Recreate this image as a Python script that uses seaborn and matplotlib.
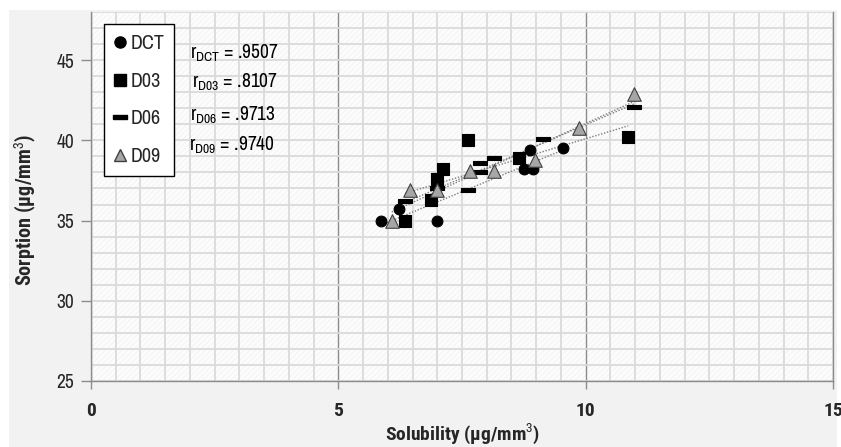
"""Sorption vs solubility scatter with linear trendlines for four groups."""

import matplotlib
matplotlib.use("Agg")
import matplotlib.pyplot as plt
from matplotlib.lines import Line2D
from matplotlib.patches import Rectangle
from matplotlib.ticker import MultipleLocator
import pandas as pd
import seaborn as sns

# ---------------------------------------------------------------------------
# Data
# ---------------------------------------------------------------------------
dct_x = [5.86, 6.23, 6.99, 8.75, 8.93, 8.87, 9.54]
dct_y = [35.0, 35.7, 35.0, 38.2, 38.2, 39.4, 39.5]

d03_x = [6.35, 6.87, 6.99, 7.12, 7.62, 8.65, 10.86]
d03_y = [35.0, 36.3, 37.6, 38.2, 40.0, 38.9, 40.2]

d06_x = [6.35, 6.99, 7.62, 7.86, 7.86, 8.15, 9.14, 10.98]
d06_y = [36.2, 37.0, 36.9, 38.6, 38.0, 38.9, 40.1, 42.1]

d09_x = [6.08, 6.45, 6.99, 7.66, 8.15, 8.97, 9.86, 10.98]
d09_y = [35.0, 36.9, 36.9, 38.1, 38.1, 38.8, 40.8, 42.9]

groups = ["DCT", "D03", "D06", "D09"]
r_values = [".9507", ".8107", ".9713", ".9740"]

# dash marker for D06 (flat filled rectangle)
DASH = [(-1, -0.3), (1, -0.3), (1, 0.3), (-1, 0.3), (-1, -0.3)]
styles = {
    "DCT": dict(marker="o", s=60, color="black", edgecolor="black"),
    "D03": dict(marker="s", s=70, color="black", edgecolor="black"),
    "D06": dict(marker=DASH, s=110, color="black", edgecolor="black"),
    "D09": dict(marker="^", s=95, color="#a6a6a6", edgecolor="#404040"),
}

sns.set_theme(style="white")
REG = ["Archivo Narrow", "Liberation Sans", "DejaVu Sans"]
BOLD = ["Roboto Condensed", "Barlow Condensed", "Liberation Sans", "DejaVu Sans"]
plt.rcParams["font.family"] = REG
plt.rcParams["mathtext.fontset"] = "custom"
plt.rcParams["mathtext.rm"] = "Archivo Narrow"
plt.rcParams["mathtext.bf"] = "Roboto Condensed:bold"
plt.rcParams["mathtext.default"] = "rm"
plt.rcParams["hatch.linewidth"] = 0.5

df = pd.concat(
    [
        pd.DataFrame({"solubility": dct_x, "sorption": dct_y, "group": "DCT"}),
        pd.DataFrame({"solubility": d03_x, "sorption": d03_y, "group": "D03"}),
        pd.DataFrame({"solubility": d06_x, "sorption": d06_y, "group": "D06"}),
        pd.DataFrame({"solubility": d09_x, "sorption": d09_y, "group": "D09"}),
    ],
    ignore_index=True,
)

W, H = 841, 447
fig = plt.figure(figsize=(W / 100, H / 100), dpi=100)
fig.patch.set_facecolor("white")
fig.patches.append(
    Rectangle((9 / W, 0), (837 - 9) / W, (H - 10) / H,
              transform=fig.transFigure, facecolor="#f2f2f2",
              edgecolor="none", zorder=-10)
)
ax = fig.add_axes([91 / W, 1 - 381 / H, 742 / W, 369 / H])
ax.set_facecolor("white")
ax.add_patch(Rectangle((0, 0), 1, 1, transform=ax.transAxes, facecolor="#fcfcfc",
                       edgecolor="#f1f1f1", hatch="//////", lw=0, zorder=-5))

# trendlines first, then markers on top
for g in groups:
    sub = df[df.group == g]
    sns.regplot(data=sub, x="solubility", y="sorption", ax=ax, scatter=False,
                ci=None, truncate=True,
                line_kws=dict(color="#7f7f7f", lw=1.0, ls=(0, (1, 1.2)), zorder=3))
for g in groups:
    sub = df[df.group == g]
    st = styles[g]
    sns.scatterplot(data=sub, x="solubility", y="sorption", ax=ax,
                    marker=st["marker"], s=st["s"], color=st["color"],
                    edgecolor=st["edgecolor"], linewidth=0.8, zorder=4)

ax.set_xlim(0, 15)
ax.set_ylim(25, 48)
ax.set_xticks([0, 5, 10, 15])
ax.set_yticks([25, 30, 35, 40, 45])
ax.xaxis.set_minor_locator(MultipleLocator(0.5))
ax.yaxis.set_minor_locator(MultipleLocator(1))
ax.set_axisbelow(True)
ax.grid(which="minor", color="#dadada", lw=1.3)
ax.grid(which="major", axis="y", color="#dadada", lw=1.3)
ax.grid(which="major", axis="x", color="#8c8c8c", lw=1.0)

for side in ["left", "bottom", "right"]:
    ax.spines[side].set_color("#8c8c8c")
    ax.spines[side].set_linewidth(1.0)
ax.spines["top"].set_visible(False)

ax.tick_params(which="minor", length=0)
ax.tick_params(axis="y", which="major", length=7, width=1, color="#8c8c8c",
               direction="out", left=True, pad=5, labelsize=14)
ax.tick_params(axis="x", which="major", length=6, width=1, color="#8c8c8c",
               direction="out", bottom=True, pad=9, labelsize=14)
for lab in ax.get_xticklabels():
    lab.set_family(BOLD)
    lab.set_fontweight("bold")

ax.set_xlabel("Solubility (µg/mm$^{3}$)", fontsize=14, fontweight="bold", family=BOLD)
ax.set_ylabel("Sorption (µg/mm$^{3}$)", fontsize=14.5, fontweight="bold", family=BOLD)
ax.xaxis.set_label_coords((462 - 91) / 742, (381 - 434) / 369)
ax.yaxis.set_label_coords((25 - 91) / 742, (381 - 210) / 369)
ax.xaxis.label.set_va("center")
ax.yaxis.label.set_va("center")

# correlation annotations
r_pos = [(2.0, 45.45), (2.04, 43.6), (2.0, 41.55), (1.98, 39.7)]
for g, r, (tx, ty) in zip(groups, r_values, r_pos):
    ax.text(tx, ty, f"r$_{{\\mathrm{{{g}}}}}$ = {r}", fontsize=14,
            ha="left", va="center", color="black", zorder=6)

handles = []
for g in groups:
    st = styles[g]
    ms = {"DCT": 8, "D03": 8, "D06": 10, "D09": 9}[g]
    handles.append(Line2D([], [], ls="", marker=st["marker"], markersize=ms,
                          markerfacecolor=st["color"],
                          markeredgecolor=st["edgecolor"], label=g))
leg = ax.legend(handles=handles, loc="upper left",
                bbox_to_anchor=((104 - 91) / 742, (381 - 24) / 369),
                fontsize=14.5, frameon=True, fancybox=False, framealpha=1,
                edgecolor="black", borderpad=0.5, labelspacing=0.92,
                handlelength=0.6, handletextpad=0.2, borderaxespad=0)
leg.get_frame().set_linewidth(1.0)
leg.set_zorder(7)

fig.savefig("out.png", dpi=100, facecolor=fig.get_facecolor())
